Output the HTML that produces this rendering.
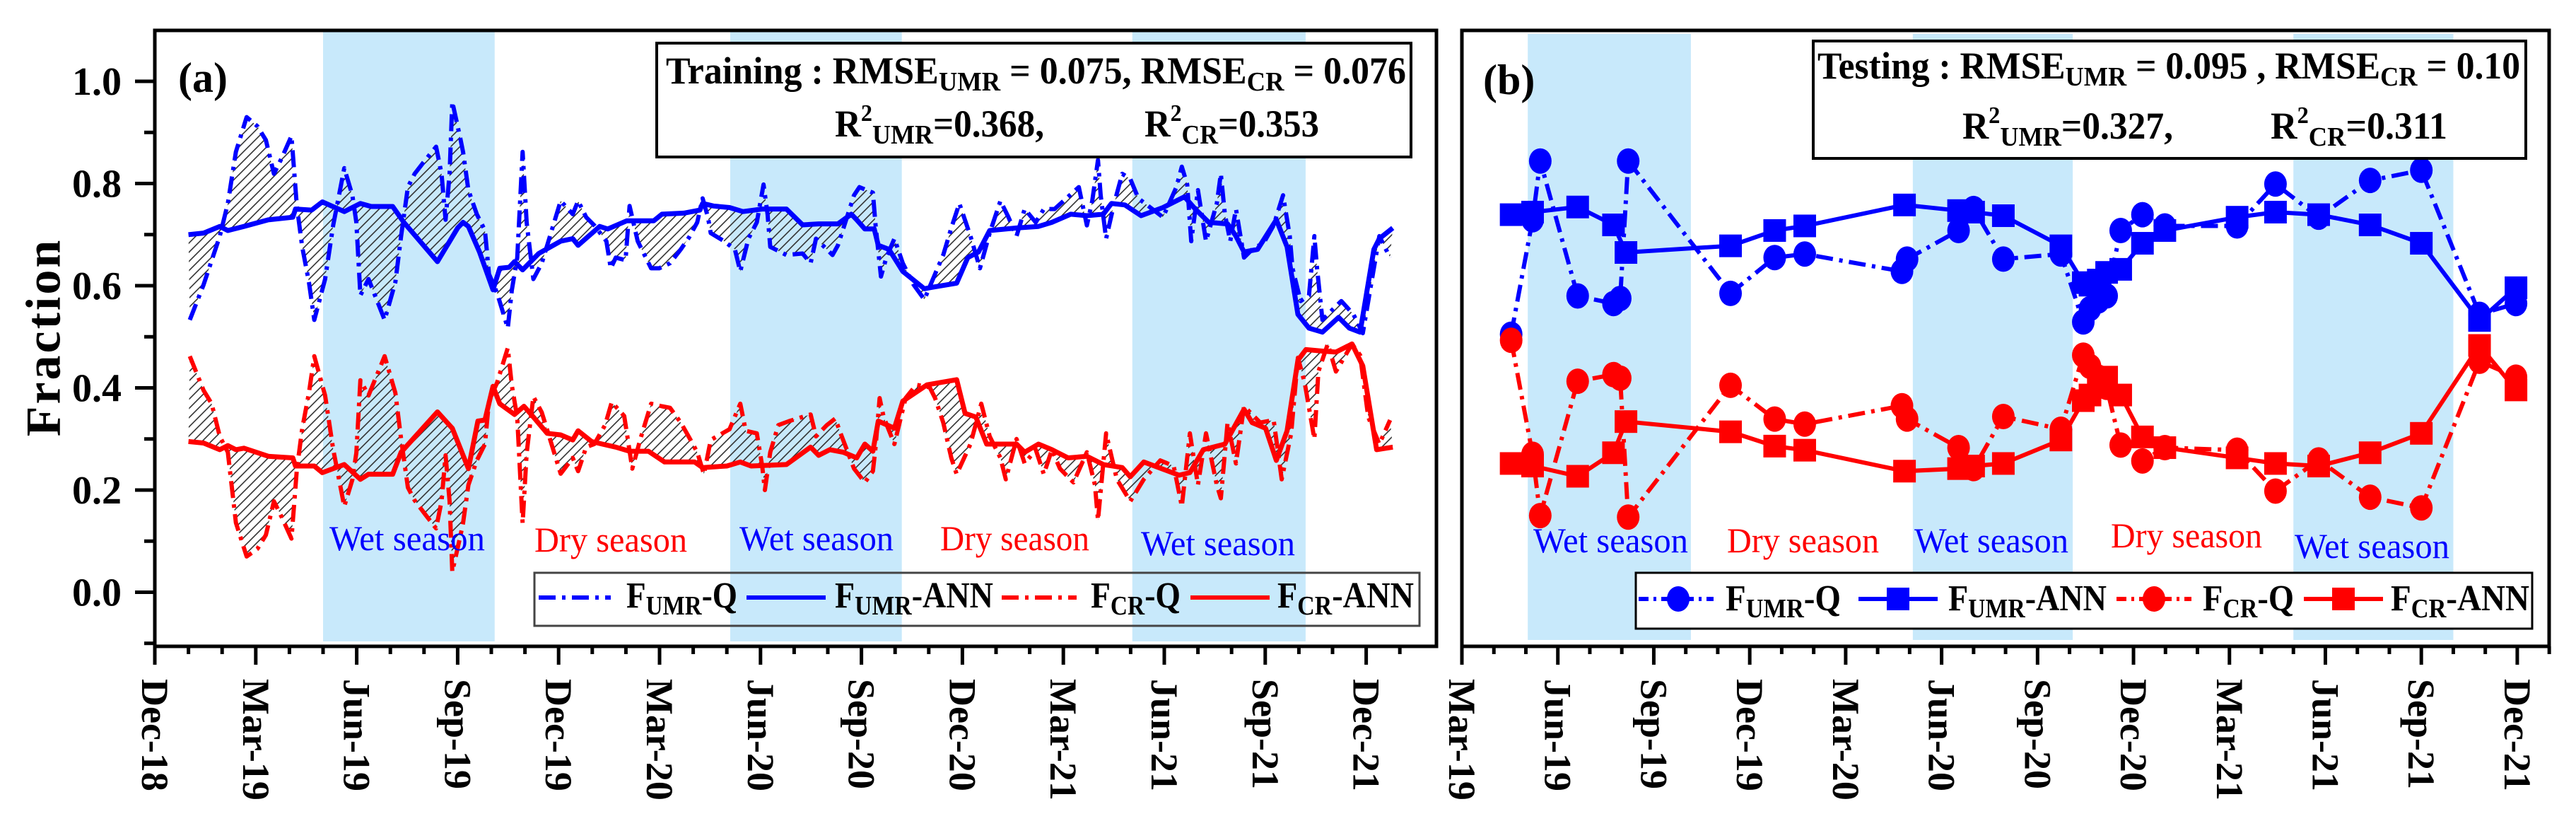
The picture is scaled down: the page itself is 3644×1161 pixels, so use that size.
<!DOCTYPE html>
<html><head><meta charset="utf-8"><style>
html,body{margin:0;padding:0;background:#fff;}
svg{display:block;font-family:"Liberation Serif",serif;}
</style></head><body>
<svg id="chart" width="3644" height="1161" viewBox="0 0 3644 1161" xmlns="http://www.w3.org/2000/svg">
<defs>
<pattern id="hatch" patternUnits="userSpaceOnUse" width="13" height="13">
<path d="M0,13 L13,0 M-3,3 L3,-3 M10,16 L16,10" stroke="#333" stroke-width="1.6"/>
</pattern>
<clipPath id="clipA"><rect x="219" y="43" width="1813" height="871"/></clipPath>
<clipPath id="clipB"><rect x="2068" y="43" width="1538" height="871"/></clipPath>
</defs>
<g id="layer"></g>
</svg>
<script>
// ---------- Panel (a) data: [month offset from Dec-18, fraction] ----------
const aUmrAnn = [[1.0,.70],[1.45,.703],[1.93,.716],[2.17,.708],[2.65,.716],[3.38,.729],[4.1,.734],[4.18,.75],[4.66,.748],[4.98,.764],[5.63,.745],[6.11,.761],[6.43,.755],[7.07,.755],[7.4,.724],[8.4,.647],[9.0,.713],[9.16,.724],[9.32,.716],[9.65,.666],[10.05,.592],[10.25,.634],[10.53,.636],[10.69,.647],[10.93,.631],[11.41,.663],[12.06,.687],[12.42,.692],[12.58,.679],[13.22,.716],[13.46,.711],[14.03,.727],[14.83,.727],[15.07,.74],[15.72,.742],[16.2,.748],[16.28,.761],[16.6,.756],[17.08,.753],[17.48,.745],[18.05,.75],[18.77,.75],[19.25,.719],[19.73,.721],[20.3,.721],[20.7,.74],[20.86,.729],[21.1,.711],[21.38,.711],[21.5,.679],[21.82,.671],[22.23,.628],[22.87,.594],[23.11,.597],[23.83,.605],[24.16,.655],[24.48,.666],[24.81,.708],[25.61,.713],[26.26,.716],[26.66,.724],[27.22,.74],[27.7,.737],[28.19,.74],[28.43,.761],[28.83,.758],[29.31,.737],[29.96,.753],[30.6,.774],[30.92,.75],[31.32,.724],[31.88,.721],[32.13,.697],[32.37,.666],[32.77,.671],[33.33,.729],[33.65,.676],[33.97,.544],[34.3,.517],[34.7,.509],[35.18,.538],[35.5,.517],[35.82,.509],[36.23,.671],[36.39,.692],[36.79,.713]];
const aUmrQ = [[1.04,.533],[1.45,.602],[1.93,.697],[2.17,.761],[2.41,.862],[2.73,.93],[3.05,.912],[3.3,.885],[3.54,.819],[3.78,.851],[4.06,.893],[4.14,.825],[4.22,.756],[4.38,.676],[4.58,.607],[4.74,.533],[5.06,.613],[5.3,.718],[5.63,.83],[5.87,.777],[5.99,.724],[6.11,.581],[6.35,.613],[6.83,.533],[7.15,.607],[7.32,.697],[7.52,.793],[7.72,.819],[8.04,.846],[8.36,.872],[8.52,.819],[8.64,.729],[8.76,.819],[8.84,.96],[9.08,.888],[9.16,.862],[9.32,.787],[9.57,.74],[9.81,.708],[9.93,.623],[10.17,.586],[10.49,.517],[10.61,.591],[10.77,.655],[10.93,.862],[11.05,.724],[11.25,.613],[11.5,.644],[12.06,.766],[12.42,.74],[12.58,.766],[12.82,.734],[13.06,.718],[13.42,.687],[13.55,.634],[13.7,.655],[13.99,.65],[14.11,.756],[14.35,.687],[14.75,.634],[14.99,.634],[15.31,.644],[15.63,.671],[15.88,.695],[16.12,.724],[16.28,.771],[16.44,.734],[16.52,.703],[16.92,.687],[17.24,.671],[17.4,.628],[17.64,.692],[17.89,.724],[18.09,.798],[18.21,.74],[18.29,.676],[18.77,.66],[19.25,.663],[19.49,.644],[19.65,.692],[20.14,.66],[20.3,.679],[20.78,.777],[20.94,.793],[21.34,.782],[21.42,.718],[21.58,.618],[21.74,.655],[21.98,.692],[22.23,.644],[22.55,.602],[22.87,.573],[23.19,.623],[23.43,.66],[23.67,.713],[23.91,.761],[24.24,.697],[24.52,.634],[24.81,.703],[25.13,.766],[25.37,.734],[25.61,.697],[25.85,.75],[26.18,.724],[26.42,.75],[26.74,.75],[27.46,.793],[27.7,.718],[27.86,.766],[28.03,.846],[28.11,.777],[28.27,.692],[28.51,.761],[28.75,.819],[28.99,.809],[29.23,.771],[29.96,.734],[30.36,.793],[30.52,.833],[30.68,.798],[30.8,.687],[31.0,.787],[31.24,.687],[31.56,.761],[31.68,.819],[31.8,.74],[31.96,.687],[32.13,.75],[32.37,.655],[32.69,.676],[32.93,.681],[33.25,.718],[33.53,.777],[33.73,.697],[33.81,.634],[34.05,.57],[34.3,.581],[34.46,.697],[34.54,.634],[34.7,.533],[34.94,.549],[35.26,.57],[35.62,.544],[35.9,.507],[36.39,.697],[36.71,.655]];
const aCrAnn = [[1.0,.295],[1.45,.292],[1.93,.279],[2.17,.287],[2.41,.279],[2.65,.282],[3.38,.266],[4.1,.263],[4.18,.247],[4.74,.247],[4.98,.234],[5.63,.25],[6.11,.221],[6.35,.231],[7.07,.231],[7.32,.274],[8.4,.353],[8.84,.321],[9.32,.242],[9.6,.335],[9.81,.337],[10.05,.403],[10.25,.369],[10.69,.348],[10.97,.364],[11.25,.343],[11.66,.311],[12.06,.308],[12.42,.298],[12.58,.316],[12.98,.295],[13.3,.29],[13.7,.284],[14.11,.276],[14.67,.276],[15.15,.255],[16.04,.255],[16.28,.244],[17.0,.247],[17.4,.255],[17.72,.247],[18.77,.25],[19.49,.284],[19.73,.268],[20.06,.279],[20.46,.274],[20.86,.263],[21.1,.29],[21.34,.276],[21.5,.335],[21.98,.321],[22.23,.374],[22.95,.406],[23.83,.416],[24.08,.35],[24.4,.343],[24.72,.29],[25.61,.29],[25.85,.274],[26.26,.29],[26.66,.279],[27.14,.263],[27.7,.266],[28.19,.25],[28.75,.244],[28.99,.226],[29.39,.255],[30.44,.229],[30.76,.234],[31.16,.279],[31.8,.29],[32.37,.358],[32.61,.332],[33.01,.321],[33.33,.258],[33.65,.316],[33.97,.454],[34.21,.475],[34.7,.472],[35.1,.47],[35.58,.486],[35.9,.443],[36.31,.279],[36.79,.284]];
const aCrQ = [[1.04,.462],[1.45,.395],[1.69,.369],[1.93,.305],[2.17,.274],[2.41,.136],[2.73,.07],[3.05,.085],[3.3,.112],[3.54,.178],[3.78,.146],[4.06,.105],[4.14,.172],[4.22,.24],[4.38,.32],[4.58,.39],[4.74,.462],[5.06,.385],[5.3,.28],[5.63,.168],[5.87,.22],[5.99,.273],[6.11,.415],[6.35,.385],[6.83,.462],[7.15,.39],[7.32,.3],[7.52,.205],[7.72,.18],[8.04,.152],[8.36,.125],[8.52,.178],[8.64,.268],[8.76,.178],[8.84,.04],[9.08,.11],[9.16,.135],[9.32,.21],[9.57,.258],[9.81,.29],[9.93,.374],[10.17,.41],[10.49,.478],[10.61,.405],[10.77,.342],[10.93,.135],[11.05,.272],[11.25,.383],[11.5,.352],[12.06,.232],[12.42,.263],[12.58,.237],[12.82,.284],[13.06,.29],[13.38,.327],[13.58,.372],[13.95,.345],[14.03,.311],[14.19,.242],[14.43,.3],[14.75,.369],[15.07,.364],[15.31,.361],[15.63,.332],[15.88,.303],[16.12,.274],[16.32,.231],[16.52,.298],[17.08,.319],[17.4,.369],[17.56,.316],[17.89,.311],[18.05,.247],[18.13,.2],[18.29,.274],[18.53,.327],[18.85,.335],[19.49,.348],[19.65,.305],[19.97,.327],[20.22,.34],[20.38,.311],[20.78,.242],[21.1,.215],[21.34,.237],[21.42,.284],[21.54,.38],[21.66,.343],[21.98,.29],[22.31,.38],[22.63,.406],[23.03,.401],[23.19,.38],[23.43,.332],[23.67,.263],[23.83,.231],[24.24,.29],[24.56,.369],[24.81,.305],[25.13,.263],[25.29,.221],[25.61,.3],[25.85,.252],[26.18,.279],[26.42,.231],[26.66,.279],[26.9,.242],[27.3,.215],[27.7,.274],[27.94,.21],[28.03,.141],[28.27,.311],[28.59,.221],[28.99,.178],[29.39,.221],[29.88,.258],[30.28,.247],[30.52,.168],[30.76,.311],[31.0,.21],[31.24,.311],[31.56,.21],[31.68,.184],[31.88,.332],[32.13,.252],[32.37,.364],[32.85,.332],[33.25,.337],[33.49,.221],[33.77,.311],[33.97,.459],[34.17,.411],[34.46,.3],[34.58,.432],[34.86,.486],[35.1,.432],[35.58,.486],[35.82,.464],[36.06,.343],[36.39,.29],[36.71,.337]];

// ---------- Panel (b) data: [month offset from Mar-19, fraction] ----------
const bUmrQ = [[1.54,.505],[2.21,.729],[2.45,.844],[3.62,.58],[4.74,.565],[4.95,.575],[5.2,.844],[8.4,.585],[9.78,.655],[10.72,.662],[13.76,.628],[13.92,.652],[15.53,.708],[16.0,.751],[16.93,.652],[18.73,.662],[19.43,.529],[19.64,.555],[19.9,.57],[20.16,.58],[20.6,.708],[21.28,.739],[21.98,.717],[24.24,.717],[25.44,.799],[26.79,.734],[28.4,.806],[30.0,.826],[31.82,.544],[32.96,.565]];
const bUmrAnn = [[1.54,.739],[2.21,.744],[3.62,.754],[4.74,.719],[5.13,.665],[8.4,.678],[9.78,.708],[10.72,.717],[13.84,.758],[15.53,.747],[16.0,.744],[16.93,.737],[18.73,.678],[19.43,.606],[19.64,.601],[19.9,.611],[20.16,.626],[20.6,.632],[21.28,.683],[21.98,.708],[24.24,.734],[25.44,.744],[26.79,.739],[28.4,.719],[30.0,.683],[31.82,.532],[32.96,.596]];
const bCrQ = [[1.54,.493],[2.21,.27],[2.45,.15],[3.62,.413],[4.74,.426],[4.95,.419],[5.2,.147],[8.4,.405],[9.78,.339],[10.72,.329],[13.76,.365],[13.92,.339],[15.53,.283],[16.0,.242],[16.93,.344],[18.73,.319],[19.43,.464],[19.64,.442],[19.9,.421],[20.16,.401],[20.6,.288],[21.28,.257],[21.98,.283],[24.24,.278],[25.44,.198],[26.79,.259],[28.4,.186],[30.0,.165],[31.82,.452],[32.96,.421]];
const bCrAnn = [[1.54,.252],[2.21,.247],[3.62,.227],[4.74,.273],[5.13,.334],[8.4,.314],[9.78,.286],[10.72,.278],[13.84,.237],[15.53,.242],[16.0,.247],[16.93,.252],[18.73,.298],[19.43,.375],[19.64,.386],[19.9,.401],[20.16,.421],[20.6,.386],[21.28,.304],[21.98,.283],[24.24,.263],[25.44,.252],[26.79,.247],[28.4,.273],[30.0,.311],[31.82,.483],[32.96,.396]];

// ---------- Axis labels ----------
const yTickVals = [0.0, 0.2, 0.4, 0.6, 0.8, 1.0];
const yTickLabels = ["0.0","0.2","0.4","0.6","0.8","1.0"];
const aXLabels = ["Dec-18","Mar-19","Jun-19","Sep-19","Dec-19","Mar-20","Jun-20","Sep-20","Dec-20","Mar-21","Jun-21","Sep-21","Dec-21"];
const bXLabels = ["Mar-19","Jun-19","Sep-19","Dec-19","Mar-20","Jun-20","Sep-20","Dec-20","Mar-21","Jun-21","Sep-21","Dec-21"];
const aWetBands = [[5.0,10.1],[17.1,22.2],[29.05,34.2]];
const bWetBands = [[2.06,7.16],[14.1,19.1],[26.0,31.0]];

// ---------- scales ----------
const Y0 = 837.5, YH = 722.5;
function yv(v){ return Y0 - v*YH; }
function xa(m){ return 219 + m*47.6; }
function xb(m){ return 2068 + m*45.24; }

const NS = "http://www.w3.org/2000/svg";
const root = document.getElementById('layer');
function mk(tag, attrs, parent){
  const e = document.createElementNS(NS, tag);
  for (const k in attrs) e.setAttribute(k, attrs[k]);
  (parent||root).appendChild(e);
  return e;
}
function grp(name, parent){
  const g = mk('g', {}, parent);
  
  
  return g;
}
function pts(arr, xf){ return arr.map(p => xf(p[0]).toFixed(1)+','+yv(p[1]).toFixed(1)).join(' '); }

const BLUE = '#0000ff', RED = '#ff0000', DASH = '24 9 5 9';

// ---------- Panel A ----------
const gA = grp('panel-a');
const bandsA = grp('wet-season-bands-a', gA);
aWetBands.forEach(b => {
  const r = mk('rect', {x: xa(b[0]), y: 45, width: xa(b[1])-xa(b[0]), height: 862, fill: '#c8e9fb'}, bandsA);
  
  
});
const hatchA = grp('hatched-difference-a', gA);
hatchA.setAttribute('clip-path', 'url(#clipA)');
[[aUmrQ, aUmrAnn], [aCrQ, aCrAnn]].forEach(pair => {
  const poly = pair[0].concat(pair[1].slice().reverse());
  const p = mk('polygon', {points: pts(poly, xa), fill: 'url(#hatch)', 'fill-rule': 'evenodd', stroke: 'none'}, hatchA);
  
  
});
const linesA = grp('series-a', gA);
linesA.setAttribute('clip-path', 'url(#clipA)');
[[aUmrQ, BLUE, DASH, 'umr-q-line'], [aCrQ, RED, DASH, 'cr-q-line'], [aUmrAnn, BLUE, 'none', 'umr-ann-line'], [aCrAnn, RED, 'none', 'cr-ann-line']].forEach(s => {
  const l = mk('polyline', {points: pts(s[0], xa), fill: 'none', stroke: s[1], 'stroke-width': s[2]==='none'?7:6, 'stroke-dasharray': s[2], 'stroke-linejoin': 'round'}, linesA);
  
  
});

// ---------- Panel B ----------
const gB = grp('panel-b');
const bandsB = grp('wet-season-bands-b', gB);
bWetBands.forEach(b => {
  const r = mk('rect', {x: xb(b[0]), y: 48, width: xb(b[1])-xb(b[0]), height: 857, fill: '#c8e9fb'}, bandsB);
  
  
});
const linesB = grp('series-b', gB);
linesB.setAttribute('clip-path', 'url(#clipB)');
[[bUmrQ, BLUE, DASH, 'circle', 'umr-q'], [bUmrAnn, BLUE, 'none', 'square', 'umr-ann'], [bCrQ, RED, DASH, 'circle', 'cr-q'], [bCrAnn, RED, 'none', 'square', 'cr-ann']].forEach(s => {
  const l = mk('polyline', {points: pts(s[0], xb), fill: 'none', stroke: s[1], 'stroke-width': 6, 'stroke-dasharray': s[2]}, linesB);
  
  
});
[[bUmrQ, BLUE, 'circle', 'umr-q'], [bUmrAnn, BLUE, 'square', 'umr-ann'], [bCrQ, RED, 'circle', 'cr-q'], [bCrAnn, RED, 'square', 'cr-ann']].forEach(s => {
  s[0].forEach(p => {
    let m;
    if (s[2] === 'circle') m = mk('ellipse', {cx: xb(p[0]), cy: yv(p[1]), rx: 16, ry: 18, fill: s[1]}, linesB);
    else m = mk('rect', {x: xb(p[0])-16, y: yv(p[1])-16, width: 32, height: 32, fill: s[1]}, linesB);
    
    
  });
});

// ---------- Frames & axes ----------
function frame(x1, x2, name){
  const r = mk('rect', {x: x1, y: 43, width: x2-x1, height: 871, fill: 'none', stroke: '#000', 'stroke-width': 5});
  
  
}
frame(219, 2032, 'panel-a-frame');
frame(2068, 3606, 'panel-b-frame');

const yAxis = grp('y-axis');
yTickVals.forEach((v, i) => {
  const t = mk('line', {x1: 191, x2: 219, y1: yv(v), y2: yv(v), stroke: '#000', 'stroke-width': 5}, yAxis);
  
  
  const tx = mk('text', {x: 172, y: yv(v)+19, 'text-anchor': 'end', 'font-size': 56, 'font-weight': 'bold'}, yAxis);
  tx.textContent = yTickLabels[i];
  
  
  if (i < yTickVals.length - 1) {
    const mv = (yTickVals[i] + yTickVals[i+1]) / 2;
    const mt = mk('line', {x1: 204, x2: 219, y1: yv(mv), y2: yv(mv), stroke: '#000', 'stroke-width': 5}, yAxis);
    
    
  }
});
{
  const mv = yTickVals[0] - 0.1;
  const mt = mk('line', {x1: 204, x2: 219, y1: yv(mv), y2: yv(mv), stroke: '#000', 'stroke-width': 5}, yAxis);
  
  
}

function xAxis(labels, xf, maxMonth, name){
  const g = grp(name);
  for (let m = 0; m <= maxMonth; m++) {
    const major = m % 3 === 0 && (m/3) < labels.length;
    const t = mk('line', {x1: xf(m), x2: xf(m), y1: 914, y2: major ? 940 : 925, stroke: '#000', 'stroke-width': 5}, g);
    
    
  }
  labels.forEach((lab, i) => {
    const x = xf(i*3);
    const tx = mk('text', {x: x, y: 960, transform: 'rotate(90 '+x+' 960)', 'font-size': 54, 'font-weight': 'bold', 'dominant-baseline': 'central'}, g);
    tx.textContent = lab;
    
    
  });
}
xAxis(aXLabels, xa, 37, 'x-axis-a');
xAxis(bXLabels, xb, 34, 'x-axis-b');
</script>

<svg style="position:absolute;left:0;top:0" width="3644" height="1161" viewBox="0 0 3644 1161" xmlns="http://www.w3.org/2000/svg" font-family="Liberation Serif, serif">
<text x="62" y="477" transform="rotate(-90 62 477)" text-anchor="middle" font-size="70" font-weight="bold" letter-spacing="3" dominant-baseline="central">Fraction</text>
<text x="252" y="130" font-size="60" font-weight="bold">(a)</text>
<text x="2098" y="133" font-size="60" font-weight="bold">(b)</text>

<g>
<rect x="929" y="61" width="1067" height="161" fill="#fff" stroke="#000" stroke-width="4"/>
<text x="942" y="118" font-size="54" font-weight="bold" textLength="1047" lengthAdjust="spacingAndGlyphs">Training : RMSE<tspan font-size="38" dy="10">UMR</tspan><tspan dy="-10"> = 0.075,  RMSE</tspan><tspan font-size="38" dy="10">CR</tspan><tspan dy="-10"> = 0.076</tspan></text>
<text x="1181" y="193" font-size="54" font-weight="bold" textLength="296" lengthAdjust="spacingAndGlyphs">R<tspan font-size="34" dy="-22">2</tspan><tspan font-size="38" dy="32">UMR</tspan><tspan dy="-10">=0.368,</tspan></text>
<text x="1619" y="193" font-size="54" font-weight="bold" textLength="247" lengthAdjust="spacingAndGlyphs">R<tspan font-size="34" dy="-22">2</tspan><tspan font-size="38" dy="32">CR</tspan><tspan dy="-10">=0.353</tspan></text>
</g>

<g>
<rect x="2565" y="58" width="1008" height="166" fill="#fff" stroke="#000" stroke-width="4"/>
<text x="2571" y="111" font-size="54" font-weight="bold" textLength="994" lengthAdjust="spacingAndGlyphs">Testing : RMSE<tspan font-size="38" dy="10">UMR</tspan><tspan dy="-10"> = 0.095 , RMSE</tspan><tspan font-size="38" dy="10">CR</tspan><tspan dy="-10"> = 0.10</tspan></text>
<text x="2776" y="196" font-size="54" font-weight="bold" textLength="298" lengthAdjust="spacingAndGlyphs">R<tspan font-size="34" dy="-22">2</tspan><tspan font-size="38" dy="32">UMR</tspan><tspan dy="-10">=0.327,</tspan></text>
<text x="3212" y="196" font-size="54" font-weight="bold" textLength="250" lengthAdjust="spacingAndGlyphs">R<tspan font-size="34" dy="-22">2</tspan><tspan font-size="38" dy="32">CR</tspan><tspan dy="-10">=0.311</tspan></text>
</g>

<g font-size="50">
<text x="466" y="778" fill="#0000ff" textLength="220" lengthAdjust="spacingAndGlyphs">Wet season</text>
<text x="756" y="780" fill="#ff0000" textLength="216" lengthAdjust="spacingAndGlyphs">Dry season</text>
<text x="1046" y="778" fill="#0000ff" textLength="218" lengthAdjust="spacingAndGlyphs">Wet season</text>
<text x="1330" y="778" fill="#ff0000" textLength="211" lengthAdjust="spacingAndGlyphs">Dry season</text>
<text x="1614" y="785" fill="#0000ff" textLength="218" lengthAdjust="spacingAndGlyphs">Wet season</text>
</g>
<g font-size="50">
<text x="2169" y="781" fill="#0000ff" textLength="219" lengthAdjust="spacingAndGlyphs">Wet season</text>
<text x="2443" y="781" fill="#ff0000" textLength="215" lengthAdjust="spacingAndGlyphs">Dry season</text>
<text x="2708" y="781" fill="#0000ff" textLength="218" lengthAdjust="spacingAndGlyphs">Wet season</text>
<text x="2986" y="774" fill="#ff0000" textLength="214" lengthAdjust="spacingAndGlyphs">Dry season</text>
<text x="3246" y="789" fill="#0000ff" textLength="219" lengthAdjust="spacingAndGlyphs">Wet season</text>
</g>

<g font-size="52" font-weight="bold">
<rect x="756" y="810" width="1252" height="75" fill="none" stroke="#444" stroke-width="3"/>
<g><line x1="762" y1="845" x2="864" y2="845" stroke="#0000ff" stroke-width="6" stroke-dasharray="24 9 5 9"/><text x="886" y="859" textLength="157" lengthAdjust="spacingAndGlyphs">F<tspan font-size="38" dy="10">UMR</tspan><tspan dy="-10">-Q</tspan></text></g>
<g><line x1="1056" y1="845" x2="1168" y2="845" stroke="#0000ff" stroke-width="6"/><text x="1181" y="859" textLength="224" lengthAdjust="spacingAndGlyphs">F<tspan font-size="38" dy="10">UMR</tspan><tspan dy="-10">-ANN</tspan></text></g>
<g><line x1="1417" y1="845" x2="1523" y2="845" stroke="#ff0000" stroke-width="6" stroke-dasharray="24 9 5 9"/><text x="1543" y="859" textLength="127" lengthAdjust="spacingAndGlyphs">F<tspan font-size="38" dy="10">CR</tspan><tspan dy="-10">-Q</tspan></text></g>
<g><line x1="1684" y1="845" x2="1796" y2="845" stroke="#ff0000" stroke-width="6"/><text x="1807" y="859" textLength="193" lengthAdjust="spacingAndGlyphs">F<tspan font-size="38" dy="10">CR</tspan><tspan dy="-10">-ANN</tspan></text></g>
</g>

<g font-size="52" font-weight="bold">
<rect x="2314" y="810" width="1268" height="79" fill="#fff" stroke="#000" stroke-width="3"/>
<g><line x1="2318" y1="847" x2="2424" y2="847" stroke="#0000ff" stroke-width="6" stroke-dasharray="14 7 4 7"/><ellipse cx="2374" cy="847" rx="16" ry="18" fill="#0000ff"/><text x="2441" y="863" textLength="163" lengthAdjust="spacingAndGlyphs">F<tspan font-size="38" dy="10">UMR</tspan><tspan dy="-10">-Q</tspan></text></g>
<g><line x1="2629" y1="847" x2="2741" y2="847" stroke="#0000ff" stroke-width="6"/><rect x="2669" y="831" width="32" height="32" fill="#0000ff"/><text x="2756" y="863" textLength="224" lengthAdjust="spacingAndGlyphs">F<tspan font-size="38" dy="10">UMR</tspan><tspan dy="-10">-ANN</tspan></text></g>
<g><line x1="2994" y1="847" x2="3100" y2="847" stroke="#ff0000" stroke-width="6" stroke-dasharray="14 7 4 7"/><ellipse cx="3047" cy="847" rx="16" ry="18" fill="#ff0000"/><text x="3116" y="863" textLength="129" lengthAdjust="spacingAndGlyphs">F<tspan font-size="38" dy="10">CR</tspan><tspan dy="-10">-Q</tspan></text></g>
<g><line x1="3259" y1="847" x2="3371" y2="847" stroke="#ff0000" stroke-width="6"/><rect x="3299" y="831" width="32" height="32" fill="#ff0000"/><text x="3382" y="863" textLength="196" lengthAdjust="spacingAndGlyphs">F<tspan font-size="38" dy="10">CR</tspan><tspan dy="-10">-ANN</tspan></text></g>
</g>
</svg>
</body></html>
